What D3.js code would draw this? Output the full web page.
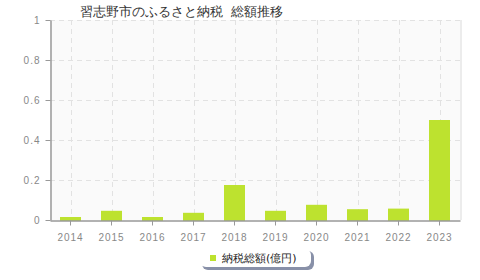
<!DOCTYPE html>
<html>
<head>
<meta charset="utf-8">
<script src="https://cdn.jsdelivr.net/npm/d3@7"></script>
<style>
    body { margin: 0; background: #fff; }
    svg { display: block; font-family: "DejaVu Sans", sans-serif; }
</style>
</head>
<body>
<svg id="chart" width="480" height="280"></svg>
<script>
const title = '習志野市のふるさと納税  総額推移'
const years = ['2014', '2015', '2016', '2017', '2018', '2019', '2020', '2021', '2022', '2023']
const totals = [0.015, 0.046, 0.015, 0.036, 0.175, 0.046, 0.076, 0.054, 0.057, 0.5]
const yTicks = [0, 0.2, 0.4, 0.6, 0.8, 1]
const seriesName = '納税総額(億円)'

const margin = { top: 20, right: 20, bottom: 60, left: 50 }
const width = 480, height = 280
const barColor = '#bde22f'

const svg = d3.select('#chart')

const x = d3.scaleBand().domain(years).range([margin.left, width - margin.right]).paddingInner(0.5).paddingOuter(0.25)
const y = d3.scaleLinear().domain([0, 1]).range([height - margin.bottom, margin.top])

// plot background with light border
svg.append('rect')
    .attr('x', margin.left).attr('y', margin.top)
    .attr('width', width - margin.left - margin.right + 2)
    .attr('height', height - margin.top - margin.bottom)
    .attr('fill', '#ececec')
svg.append('rect')
    .attr('x', margin.left).attr('y', margin.top)
    .attr('width', width - margin.left - margin.right)
    .attr('height', height - margin.top - margin.bottom)
    .attr('fill', '#fafafa')

// grid
const grid = svg.append('g').attr('stroke', '#e2e2e2').attr('stroke-dasharray', '5,4')
grid.selectAll('line.h')
    .data(yTicks.filter(d => d > 0))
    .join('line')
    .attr('x1', margin.left).attr('x2', width - margin.right)
    .attr('y1', d => y(d) + 0.5).attr('y2', d => y(d) + 0.5)
grid.selectAll('line.v')
    .data(years)
    .join('line')
    .attr('x1', d => Math.round(x(d) + x.bandwidth() / 2) + 0.5)
    .attr('x2', d => Math.round(x(d) + x.bandwidth() / 2) + 0.5)
    .attr('y1', margin.top).attr('y2', height - margin.bottom)

// bars
svg.append('g')
    .selectAll('rect')
    .data(years)
    .join('rect')
    .attr('x', d => Math.round(x(d)))
    .attr('width', Math.round(x.bandwidth()))
    .attr('y', (d, i) => y(totals[i]))
    .attr('height', (d, i) => y(0) - y(totals[i]) + 1)
    .attr('fill', barColor)

// y axis
const yAxis = svg.append('g')
    .attr('transform', `translate(${margin.left + 0.5},0)`)
    .call(d3.axisLeft(y).tickValues(yTicks).tickFormat(d => d === 0 || d === 1 ? d : d.toFixed(1)).tickSize(5).tickSizeOuter(0))
yAxis.select('.domain').attr('stroke', '#999').attr('stroke-width', 1.5)
yAxis.selectAll('.tick line').attr('stroke', '#999')
yAxis.selectAll('.tick text').attr('fill', '#888').attr('font-size', 10).attr('letter-spacing', 1).attr('x', -10)

// x axis
const xAxis = svg.append('g')
    .attr('transform', `translate(0,${y(0) + 0.5})`)
    .call(d3.axisBottom(x).tickSize(5).tickSizeOuter(0))
xAxis.select('.domain').attr('stroke', '#999').attr('stroke-width', 1.5)
xAxis.selectAll('.tick line').attr('stroke', '#999')
xAxis.selectAll('.tick text').attr('fill', '#888').attr('font-size', 10).attr('letter-spacing', 1).attr('dy', '1.2em')

// title
svg.append('text')
    .attr('x', 80).attr('y', 16)
    .attr('font-size', 13)
    .attr('fill', '#333')
    .style('white-space', 'pre')
    .text(title)

// legend
const legend = svg.append('g').attr('transform', 'translate(200,249)')
legend.append('rect')
    .attr('x', 2).attr('y', 2).attr('width', 112).attr('height', 19).attr('rx', 6)
    .attr('fill', '#8890a8')
legend.append('rect')
    .attr('x', 0).attr('y', 0).attr('width', 111).attr('height', 18).attr('rx', 6)
    .attr('fill', '#fff')
legend.append('rect')
    .attr('x', 10).attr('y', 6).attr('width', 6).attr('height', 6)
    .attr('fill', barColor)
legend.append('text')
    .attr('x', 22).attr('y', 13)
    .attr('font-size', 11)
    .attr('fill', '#222')
    .text(seriesName)
</script>
</body>
</html>
